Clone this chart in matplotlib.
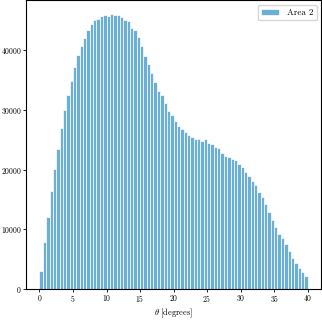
import matplotlib
matplotlib.use("Agg")
import matplotlib.pyplot as plt
import numpy as np

plt.rcParams['font.family'] = 'serif'
plt.rcParams['font.serif'] = ['cmr10']
plt.rcParams['mathtext.fontset'] = 'cm'
plt.rcParams['axes.formatter.use_mathtext'] = True

# histogram bin edges (degrees) and counts per bin
bin_edges = np.arange(0, 40.5, 0.5)
counts = [
    3020, 7940, 12130, 16500, 20080, 23490, 27000, 29980, 32550, 34950,
    37250, 39150, 40770, 42000, 43460, 44460, 45020, 45280, 45750, 45970,
    45720, 46090, 45950, 45860, 45590, 45130, 45000, 43790, 43370, 42170,
    40770, 38980, 37700, 36190, 34700, 33220, 32500, 31200, 29900, 29100,
    28200, 27300, 26800, 26250, 25900, 25450, 25200, 25100, 24880, 25120,
    24450, 24330, 23830, 23710, 22870, 22370, 22200, 21810, 21590, 21030,
    20420, 19580, 18960, 18170, 17450, 16330, 15490, 14260, 12870, 11580,
    10460, 9230, 8510, 7550, 6380, 5150, 4410, 3470, 2850, 2180,
]
label = 'Area 2'

fig = plt.figure(figsize=(3.22, 3.22), dpi=100)
ax = fig.add_axes([0.081, 0.1025, 0.916, 0.8965])

centers = (bin_edges[:-1] + bin_edges[1:]) / 2
ax.hist(centers, bins=bin_edges, weights=counts, color='#6baed6',
        edgecolor='white', linewidth=0.5, label=label)

ax.set_xticks([0, 5, 10, 15, 20, 25, 30, 35, 40])
ax.set_yticks([0, 10000, 20000, 30000, 40000])
ax.tick_params(labelsize=5.5, length=2.2, width=0.6, pad=1)
for s in ax.spines.values():
    s.set_linewidth(0.8)
ax.set_xlabel(r'$\theta$ [degrees]', fontsize=6, labelpad=1.5)
ax.legend(loc='upper right', fontsize=6.5)

fig.savefig('out.png', dpi=100)
